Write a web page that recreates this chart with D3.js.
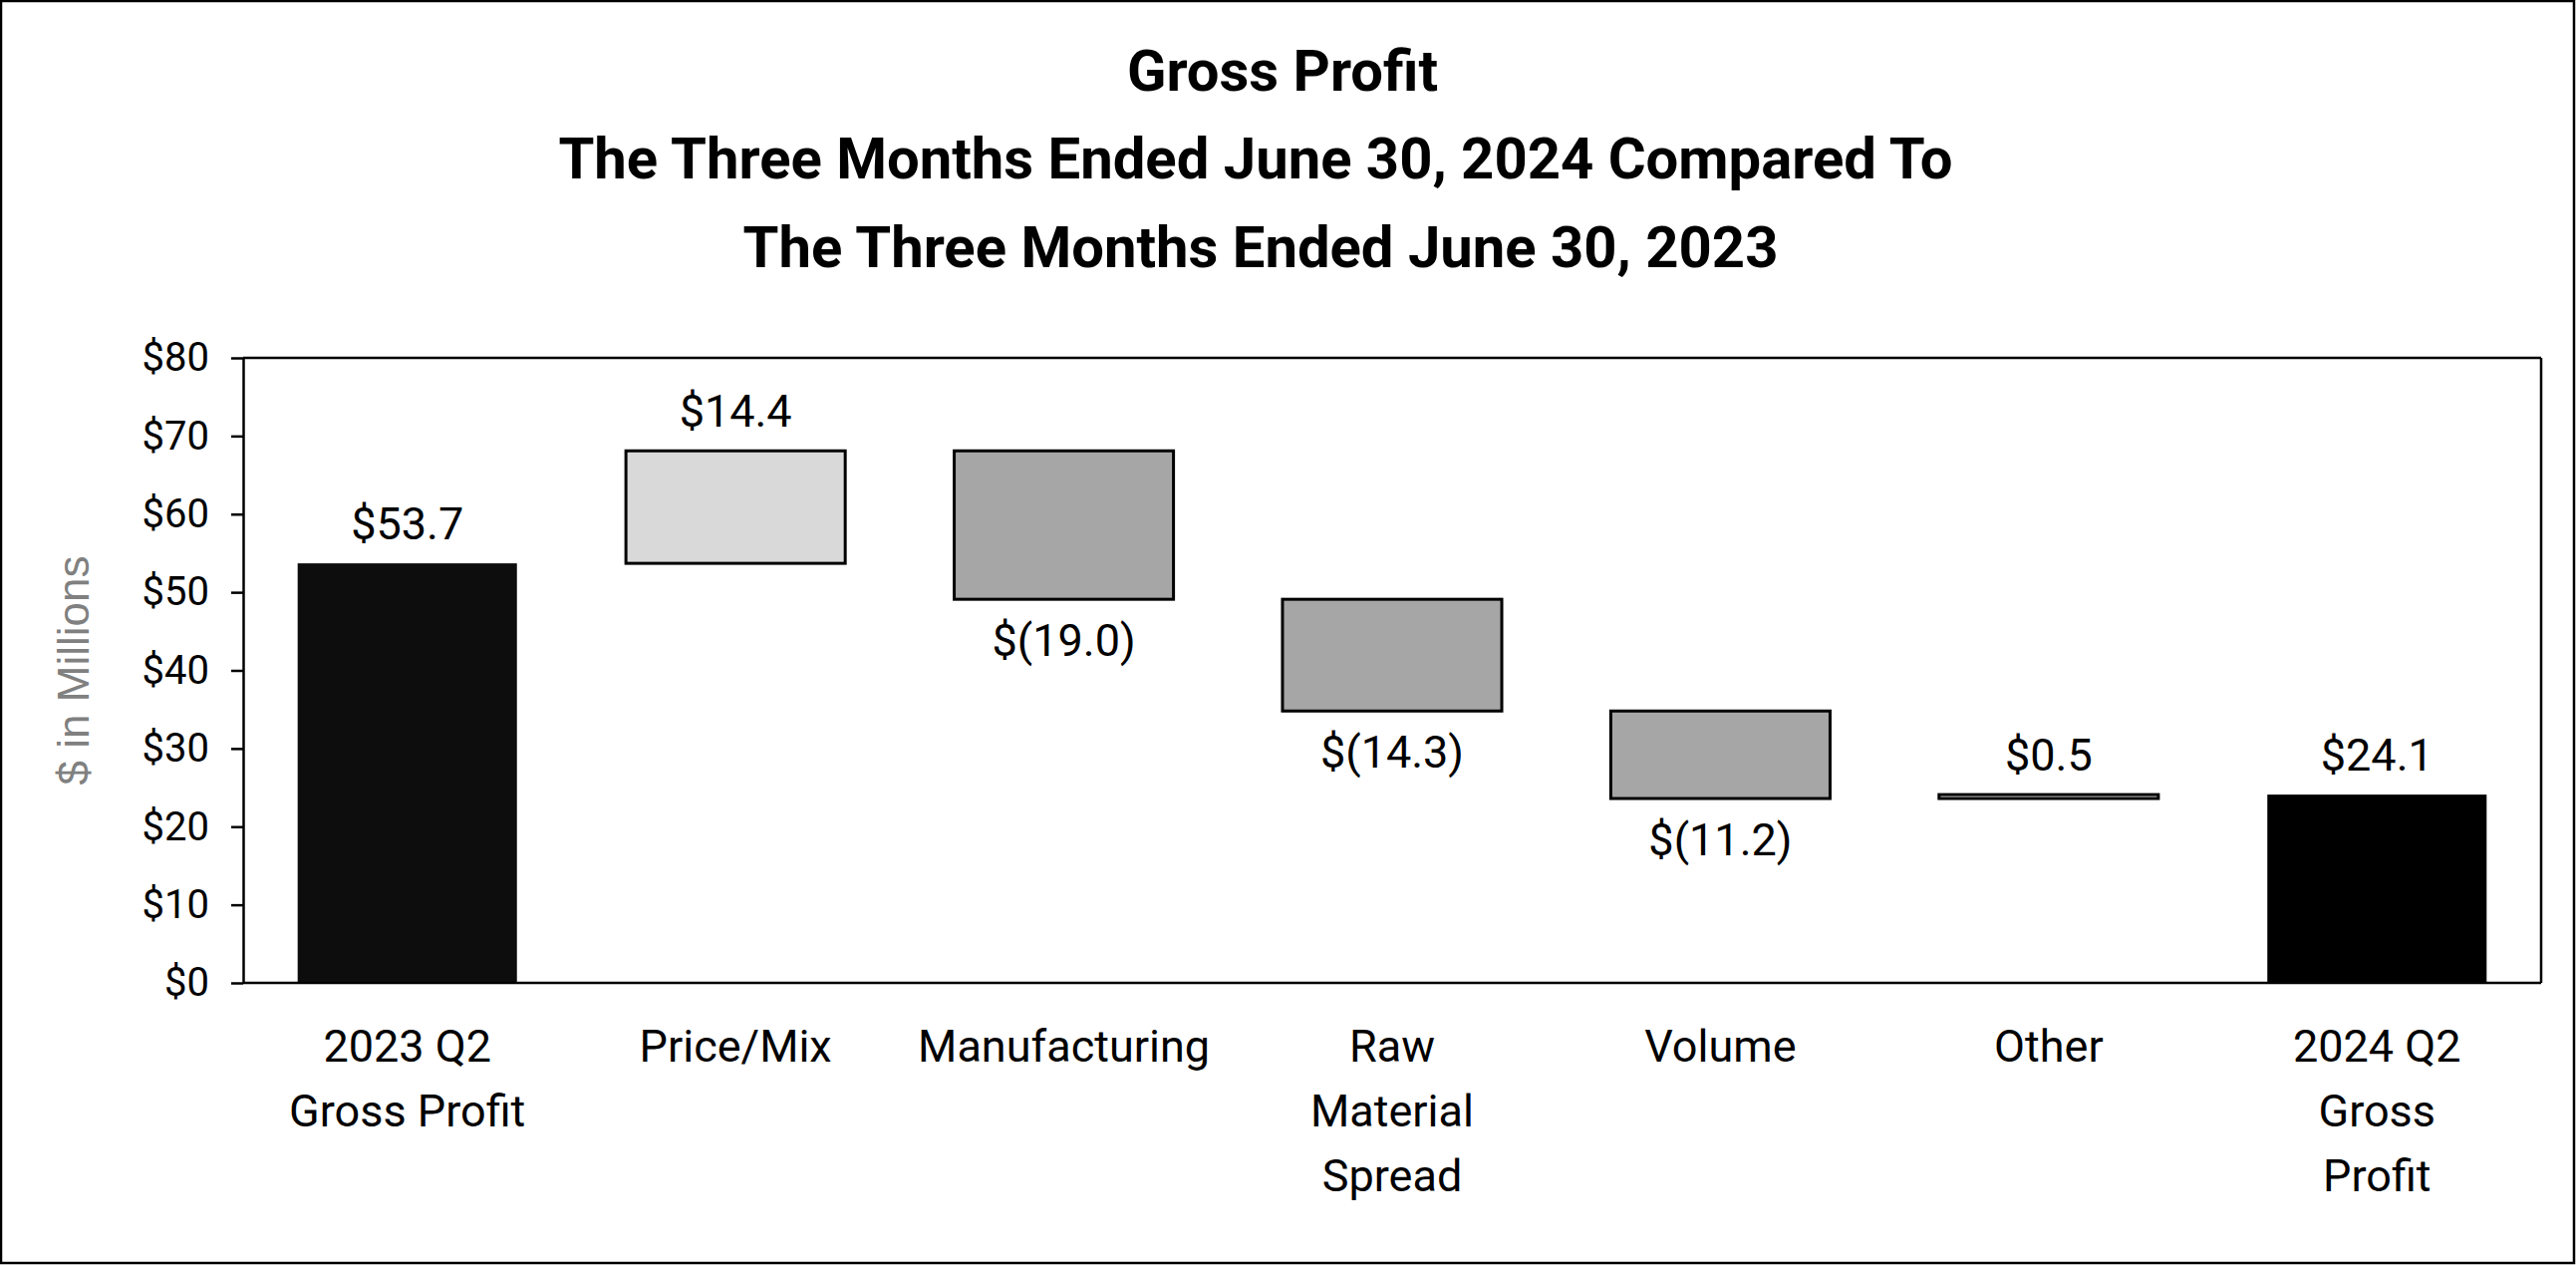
<!DOCTYPE html>
<html>
<head>
<meta charset="utf-8">
<script src="https://cdn.jsdelivr.net/npm/d3@7"></script>
<style>
body { margin: 0; background: #fff; }
text { font-family: Roboto, "Liberation Sans", sans-serif; }
</style>
</head>
<body>
<div id="chart"></div>
<script>
// data
var categories = [["2023 Q2", "Gross Profit"], ["Price/Mix"], ["Manufacturing"], ["Raw", "Material", "Spread"], ["Volume"], ["Other"], ["2024 Q2", "Gross", "Profit"]];
var changes = [53.7, 14.4, -19.0, -14.3, -11.2, 0.5, 24.1];
var kinds = ["total", "up", "down", "down", "down", "up", "total"];
var valueLabels = ["$53.7", "$14.4", "$(19.0)", "$(14.3)", "$(11.2)", "$0.5", "$24.1"];
var yTicks = [0, 10, 20, 30, 40, 50, 60, 70, 80];
var titleLines = ["Gross Profit", "The Three Months Ended June 30, 2024 Compared To", "The Three Months Ended June 30, 2023"];

var width = 2585, height = 1269;
var plot = {left: 244, right: 2550, top: 359, bottom: 986};

var svg = d3.select("#chart").append("svg")
    .attr("width", width)
    .attr("height", height);

// outer frame
svg.append("rect")
    .attr("x", 1).attr("y", 1)
    .attr("width", width - 3).attr("height", height - 3)
    .attr("fill", "#fff")
    .attr("stroke", "#000")
    .attr("stroke-width", 2.5);

// title
var titleX = [1287, 1260, 1265];
var titleY = [91, 179, 268];
svg.selectAll(".title").data(titleLines).enter().append("text")
    .attr("class", "title")
    .attr("x", function(d, i) { return titleX[i]; })
    .attr("y", function(d, i) { return titleY[i]; })
    .attr("text-anchor", "middle")
    .style("font-size", "58px")
    .style("font-weight", "bold")
    .text(function(d) { return d; });

// waterfall steps
var bars = [];
var running = 0;
for (var i = 0; i < changes.length; i++) {
    var start, end;
    if (kinds[i] == "total") {
        start = 0;
        end = changes[i];
        running = changes[i];
    } else {
        start = running;
        end = running + changes[i];
        running = end;
    }
    bars.push({i: i, start: start, end: end, kind: kinds[i], label: valueLabels[i]});
}

var x = d3.scaleBand()
    .domain(d3.range(categories.length))
    .range([plot.left, plot.right])
    .paddingInner(0.332)
    .paddingOuter(0.166);

var y = d3.scaleLinear()
    .domain([0, 80])
    .range([plot.bottom, plot.top]);

// bars
var fills = {up: "#d9d9d9", down: "#a6a6a6"};
svg.selectAll(".bar").data(bars).enter().append("rect")
    .attr("class", "bar")
    .attr("x", function(d) { return x(d.i); })
    .attr("width", x.bandwidth())
    .attr("y", function(d) { return y(Math.max(d.start, d.end)); })
    .attr("height", function(d) { return Math.abs(y(d.start) - y(d.end)); })
    .attr("fill", function(d) {
        if (d.kind == "total") return d.i == 0 ? "#0d0d0d" : "#000";
        return fills[d.kind];
    })
    .attr("stroke", function(d) { return d.kind == "total" ? "none" : "#000"; })
    .attr("stroke-width", 3);

// value labels
svg.selectAll(".val").data(bars).enter().append("text")
    .attr("class", "val")
    .attr("x", function(d) { return x(d.i) + x.bandwidth() / 2; })
    .attr("y", function(d) {
        if (d.end >= d.start) return y(d.end) - 24;
        return y(d.end) + 57;
    })
    .attr("text-anchor", "middle")
    .style("font-size", "45px")
    .text(function(d) { return d.label; });

// y axis
var yAxis = svg.append("g")
    .attr("transform", "translate(" + plot.left + ",0)")
    .call(d3.axisLeft(y).tickValues(yTicks).tickSize(12).tickSizeOuter(0).tickPadding(22)
        .tickFormat(function(d) { return "$" + d; }));
yAxis.select(".domain").attr("stroke", "#000").attr("stroke-width", 2.5);
yAxis.selectAll(".tick line").attr("stroke", "#000").attr("stroke-width", 2.5);
yAxis.selectAll(".tick text")
    .style("font-size", "40px")
    .style("font-family", "Roboto, sans-serif")
    .attr("fill", "#000");

// plot frame: bottom, top, right
svg.append("line")
    .attr("x1", plot.left).attr("x2", plot.right)
    .attr("y1", plot.bottom).attr("y2", plot.bottom)
    .attr("stroke", "#000").attr("stroke-width", 2.5);
svg.append("line")
    .attr("x1", plot.left).attr("x2", plot.right)
    .attr("y1", plot.top).attr("y2", plot.top)
    .attr("stroke", "#000").attr("stroke-width", 2.5);
svg.append("line")
    .attr("x1", plot.right).attr("x2", plot.right)
    .attr("y1", plot.top).attr("y2", plot.bottom)
    .attr("stroke", "#000").attr("stroke-width", 2.5);

// y axis title
svg.append("text")
    .attr("transform", "translate(89," + ((plot.top + plot.bottom) / 2) + ") rotate(-90)")
    .attr("text-anchor", "middle")
    .style("font-family", "'Liberation Sans', Arial, sans-serif")
    .style("font-size", "44px")
    .attr("fill", "#808080")
    .text("$ in Millions");

// category labels
var cat = svg.selectAll(".cat").data(categories).enter().append("text")
    .attr("class", "cat")
    .attr("text-anchor", "middle")
    .style("font-size", "45px");
cat.selectAll("tspan").data(function(d, i) { return d.map(function(t) { return {t: t, i: i}; }); })
    .enter().append("tspan")
    .attr("x", function(d) { return x(d.i) + x.bandwidth() / 2; })
    .attr("y", function(d, j) { return 1065 + j * 65; })
    .text(function(d) { return d.t; });
</script>
</body>
</html>
